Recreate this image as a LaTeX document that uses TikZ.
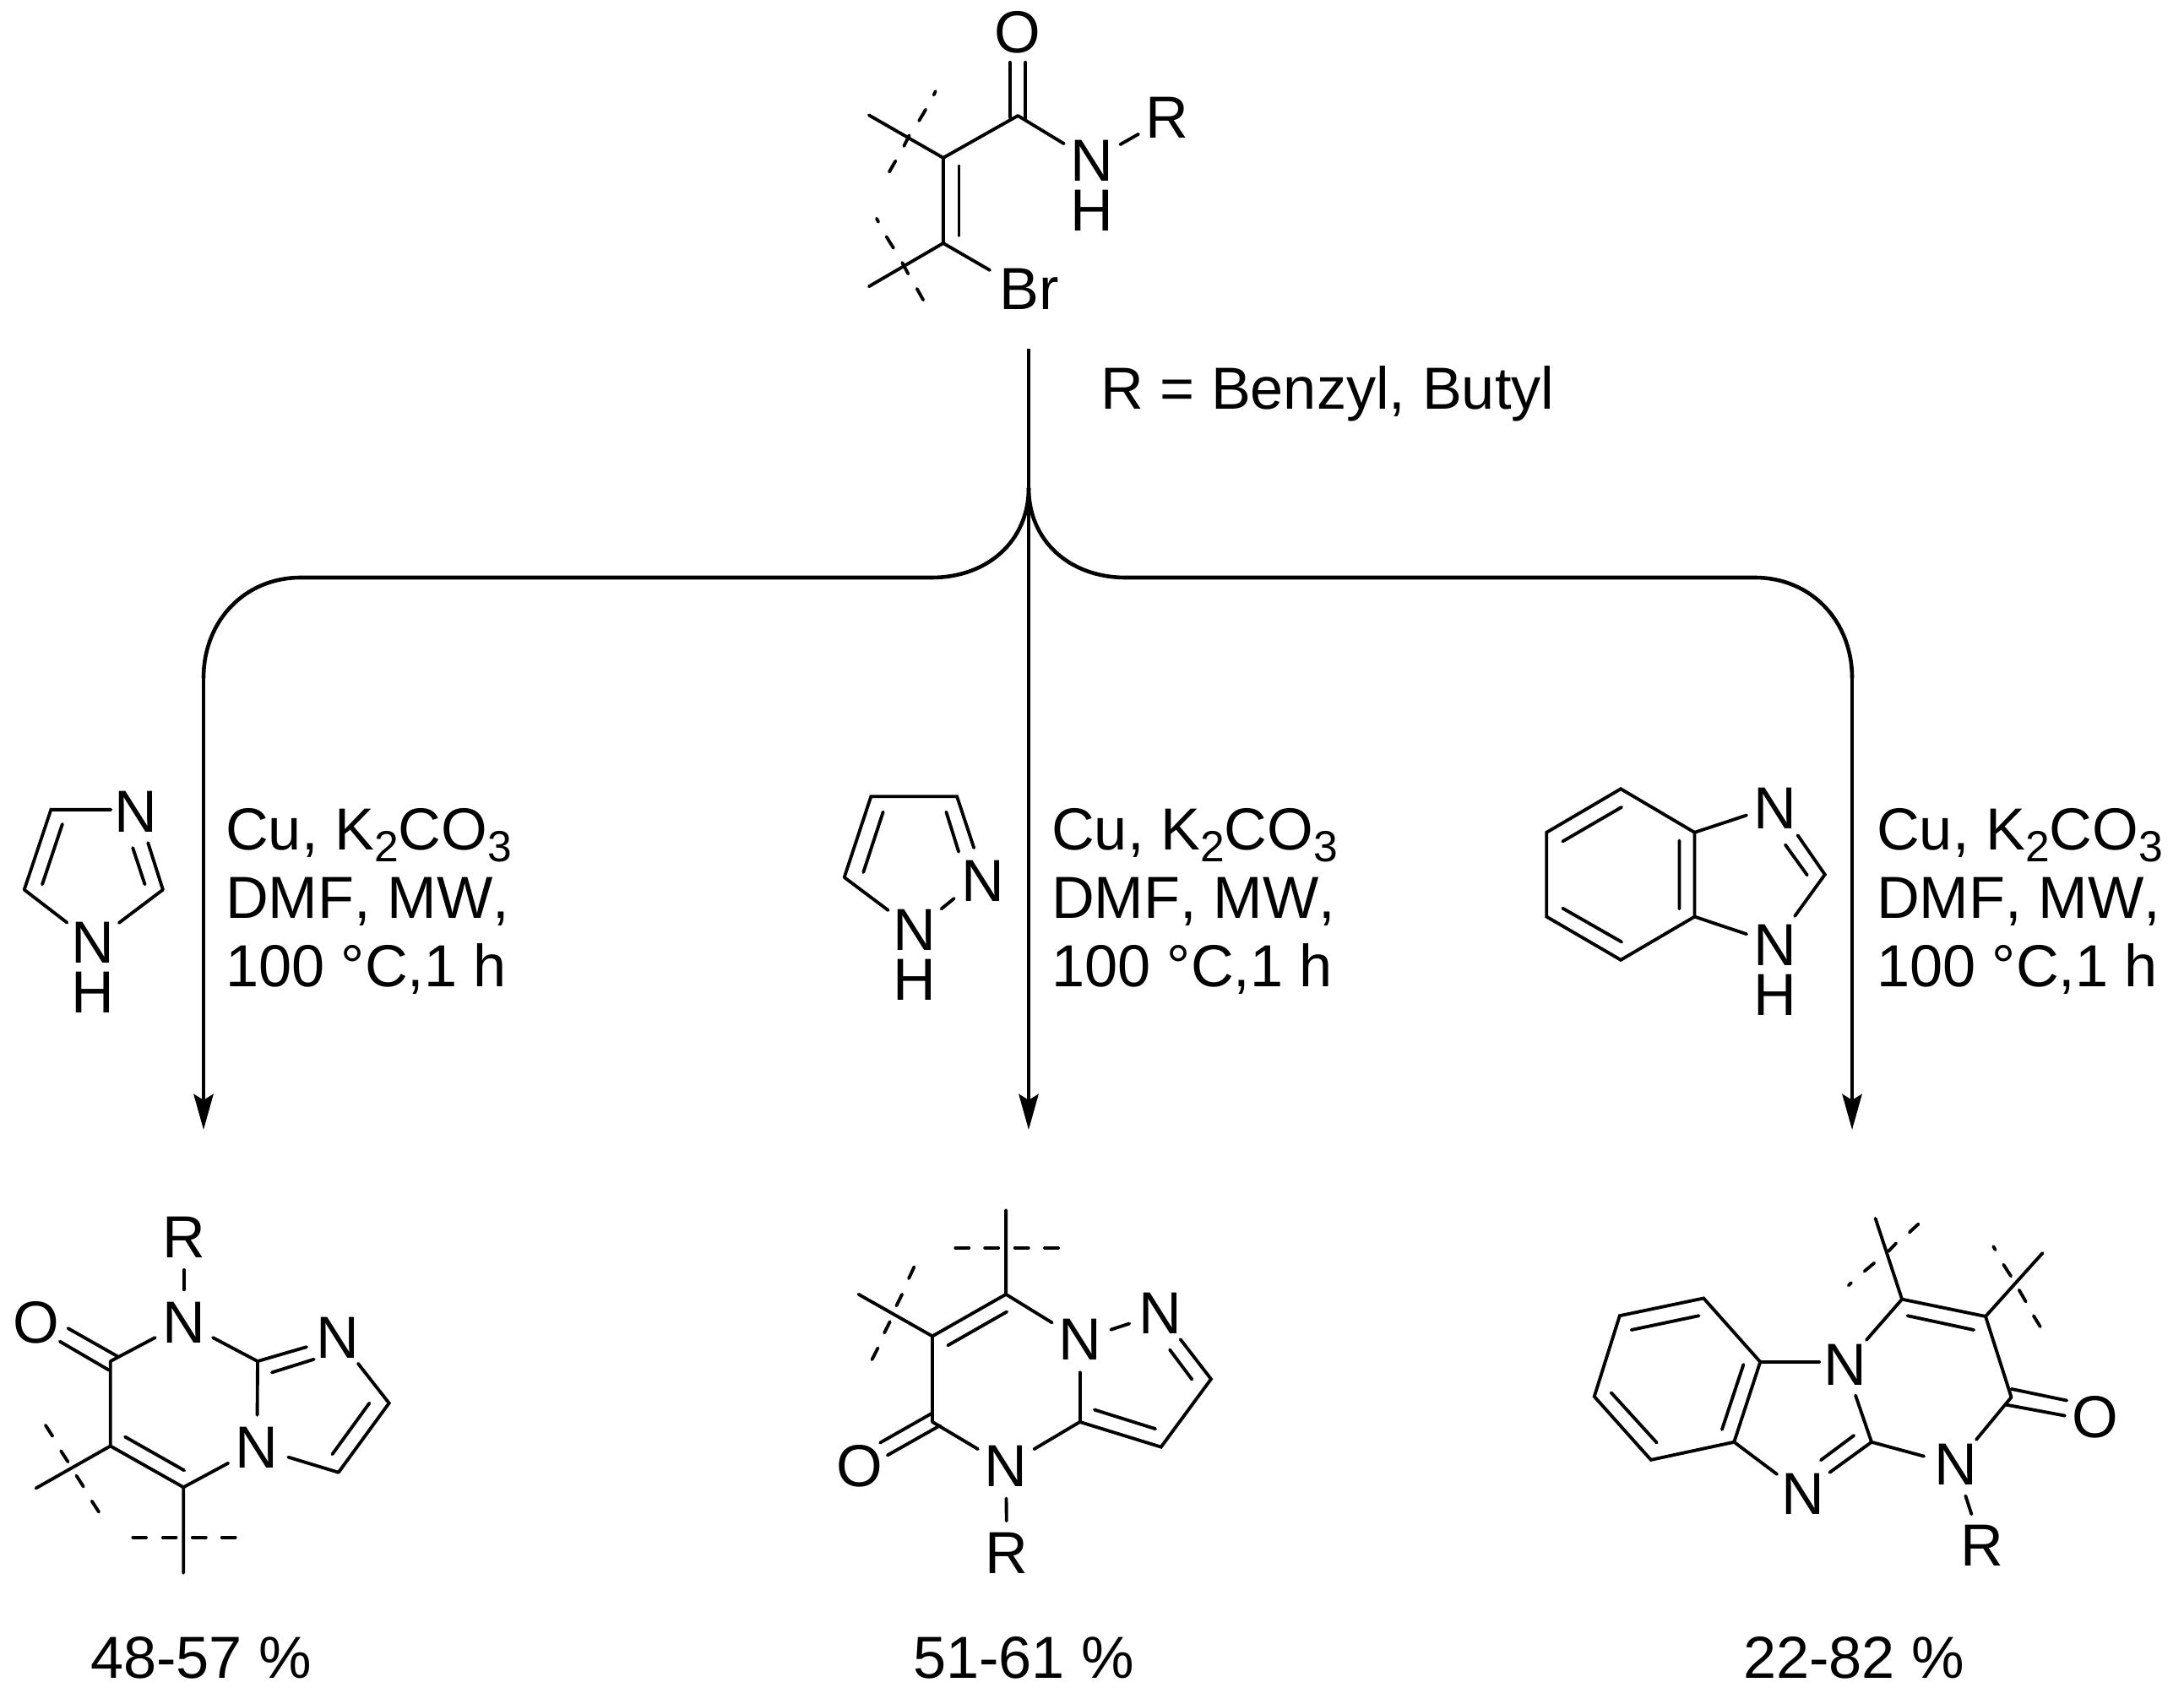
\documentclass[tikz,border=0pt]{standalone}
\usepackage{fontspec}
\setmainfont[Kerning=Off]{Liberation Sans}
\usetikzlibrary{arrows.meta}
\newcommand{\condtext}{Cu, K{\fontsize{14.7}{14.7}\selectfont\raisebox{-4.2pt}{2}}CO{\fontsize{14.7}{14.7}\selectfont\raisebox{-4.2pt}{3}}}
\tikzset{
  bond/.style={line width=1.1pt,line cap=round,line join=miter},
  flow/.style={line width=1.3pt},
  flowarrow/.style={line width=1.3pt,-{Stealth[length=12pt,width=6.6pt,inset=2pt]}},
  atom/.style={circle,inner sep=0pt,minimum size=21.6pt,font=\fontsize{20}{24}\selectfont},
  label/.style={inner sep=0pt,font=\fontsize{20}{24}\selectfont},
  zoomA/.style={x=0.00415cm,y=-0.00333cm},
  zoomB/.style={x=0.00333cm,y=-0.00391cm},
  zoomC/.style={x=0.00463cm,y=-0.00391cm},
  zoomD/.style={x=0.0041cm,y=-0.00333cm},
  zoomE/.style={x=0.00489cm,y=-0.00333cm}
}
\begin{document}
\begin{tikzpicture}
\useasboundingbox (0,0) rectangle (25.86,-20.18);
% ---------- reaction lines
\coordinate (top) at (12.18,-4.13);
\coordinate (fork) at (12.18,-5.78);
\coordinate (mid) at (12.18,-13.38);
\coordinate (lb) at (2.41,-8.03);
\coordinate (le) at (2.41,-13.38);
\coordinate (rb) at (21.93,-8.03);
\coordinate (re) at (21.93,-13.38);
\draw[flowarrow] (top) -- (mid);
\draw[flow] (fork) .. controls (12.18,-6.4) and (11.7,-6.84) .. (11.03,-6.84) -- (3.56,-6.84) .. controls (2.9,-6.84) and (2.41,-7.35) .. (lb);
\draw[flow] (fork) .. controls (12.18,-6.4) and (12.66,-6.84) .. (13.33,-6.84) -- (20.78,-6.84) .. controls (21.44,-6.84) and (21.93,-7.35) .. (rb);
\draw[flowarrow] (lb) -- (le);
\draw[flowarrow] (rb) -- (re);
\node[label,anchor=base west] (rdef) at (13.025,-4.84) {R = Benzyl, Butyl};
% ---------- conditions
\foreach \cx/\cn in {2.665/ca,12.445/cb,22.215/cc}{
  \node[label,anchor=base west] (\cn1) at (\cx,-10.06) {\condtext};
  \node[label,anchor=base west] (\cn2) at (\cx,-10.87) {DMF, MW,};
  \node[label,anchor=base west] (\cn3) at (\cx,-11.68) {100 °C,1 h};
}
% ---------- yields
\node[label,anchor=base] (y1) at (2.38,-19.87) {48-57 \%};
\node[label,anchor=base] (y2) at (12.12,-19.87) {51-61 \%};
\node[label,anchor=base] (y3) at (21.95,-19.87) {22-82 \%};
% ---------- starting material
\begin{scope}[shift={(9.5,0)},zoomA]
\node[atom] (tO) at (613,115) {O};
\node[atom] (tN) at (826,572) {N};
\node[label] (tH) at (826,750) {H};
\node[atom] (tR) at (1040,420) {R};
\node[label] (tBr) at (647,1030) {Br};
\coordinate (t1) at (615,412);
\coordinate (t2) at (402,562);
\coordinate (t3) at (402,866);
\coordinate (ta) at (190,410);
\coordinate (tb) at (190,1020);
\coordinate (tc) at (535,962);
\draw[bond] (ta) -- (t2) -- (t1) (t2) -- (t3) (tb) -- (t3) -- (tc);
\draw[bond] (t1) -- (tN);
\draw[bond] (tN) -- (tR);
\draw[bond] (592,222) -- (592,418) (637,222) -- (637,425);
\draw[bond] (447,592) -- (447,838);
\draw[bond] (380,325) -- (375,338) (352,390) -- (333,430) (305,482) -- (290,520) (266,573) -- (248,612);
\draw[bond] (212,778) -- (217,790) (240,843) -- (260,883) (285,935) -- (302,975) (327,1028) -- (345,1068);
\end{scope}
% ---------- imidazole
\begin{scope}[shift={(0,-9)},zoomD]
\node[atom] (iN) at (393,185) {N};
\node[atom] (iM) at (268,650) {N};
\node[label] (iH) at (268,828) {H};
\coordinate (i1) at (147,177);
\coordinate (i2) at (70,462);
\coordinate (i3) at (470,462);
\coordinate (i4) at (320,177);
\draw[bond] (i4) -- (i1) -- (i2);
\draw[bond] (i2) -- (iM);
\draw[bond] (iM) -- (i3);
\draw[bond] (i3) -- (427,295);
\draw[bond] (180,228) -- (122,443) (383,313) -- (418,443);
\end{scope}
% ---------- pyrazole
\begin{scope}[shift={(9.8,-9)},zoomD]
\node[atom] (pN) at (448,430) {N};
\node[atom] (pM) at (250,605) {N};
\node[label] (pH) at (250,782) {H};
\coordinate (p1) at (125,130);
\coordinate (p2) at (373,130);
\coordinate (p3) at (48,418);
\draw[bond] (422,313) -- (p2) -- (p1) -- (p3);
\draw[bond] (p3) -- (pM);
\draw[bond] (328,530) -- (365,493);
\draw[bond] (160,185) -- (103,400) (342,185) -- (378,327);
\end{scope}
% ---------- benzimidazole
\begin{scope}[shift={(18.2,-9)},zoomE]
\node[atom] (bN) at (578,173) {N};
\node[atom] (bM) at (578,660) {N};
\node[label] (bH) at (578,838) {H};
\coordinate (b1) at (203,103);
\coordinate (b2) at (23,258);
\coordinate (b3) at (23,558);
\coordinate (b4) at (203,712);
\coordinate (b5) at (382,558);
\coordinate (b6) at (382,258);
\coordinate (b7) at (698,408);
\draw[bond] (b1) -- (b2) -- (b3) -- (b4) -- (b5) -- (b6) -- cycle;
\draw[bond] (b6) -- (508,197) (b5) -- (508,620);
\draw[bond] (632,268) -- (b7) -- (625,556);
\draw[bond] (602,302) -- (655,410);
\draw[bond] (205,168) -- (62,290) (62,528) -- (205,648) (345,287) -- (345,530);
\end{scope}
% ---------- product 1
\begin{scope}[shift={(0,-14)},zoomB]
\node[atom] (aR) at (655,167) {R};
\node[atom] (aN) at (655,425) {N};
\node[atom] (aO) at (130,425) {O};
\node[atom] (aP) at (1203,472) {N};
\node[atom] (aQ) at (915,805) {N};
\coordinate (a1) at (393,543);
\coordinate (a2) at (917,543);
\coordinate (a3) at (1385,670);
\coordinate (a4) at (1205,880);
\coordinate (a5) at (653,925);
\coordinate (a6) at (393,800);
\coordinate (a7) at (128,928);
\coordinate (a8) at (653,1185);
\draw[bond] (aR) -- (aN);
\draw[bond] (a1) -- (aN);
\draw[bond] (aN) -- (a2);
\draw[bond] (a2) -- (aP);
\draw[bond] (a2) -- (aQ);
\draw[bond] (aP) -- (a3) -- (a4);
\draw[bond] (a4) -- (aQ);
\draw[bond] (aQ) -- (a5);
\draw[bond] (a5) -- (a6) -- (a1);
\draw[bond] (a6) -- (a7) (a5) -- (a8);
\draw[bond] (242,443) -- (418,528) (213,483) -- (388,570);
\draw[bond] (445,772) -- (656,874) (968,577) -- (1118,537) (1315,670) -- (1183,825);
\draw[bond] (473,1077) -- (520,1077) (580,1077) -- (627,1077) (685,1077) -- (733,1077) (790,1077) -- (838,1077);
\draw[bond] (162,737) -- (187,770) (217,815) -- (242,848) (272,890) -- (297,923) (327,967) -- (352,1000);
\end{scope}
% ---------- product 2
\begin{scope}[shift={(9.5,-14)},zoomB]
\node[atom] (cA) at (988,478) {N};
\node[atom] (cB) at (1275,398) {N};
\node[atom] (cC) at (725,860) {N};
\node[atom] (cO) at (203,860) {O};
\node[atom] (cR) at (728,1126) {R};
\coordinate (c1) at (725,340);
\coordinate (c2) at (725,85);
\coordinate (c3) at (1455,597);
\coordinate (c4) at (1277,803);
\coordinate (c5) at (988,727);
\coordinate (c6) at (463,727);
\coordinate (c7) at (463,467);
\coordinate (c8) at (200,340);
\draw[bond] (c2) -- (c1) -- (c7) -- (c6);
\draw[bond] (c1) -- (cA);
\draw[bond] (cA) -- (cB);
\draw[bond] (cB) -- (c3) -- (c4) -- (c5);
\draw[bond] (c5) -- (cA);
\draw[bond] (c5) -- (cC);
\draw[bond] (cC) -- (c6);
\draw[bond] (cC) -- (cR);
\draw[bond] (c7) -- (c8);
\draw[bond] (518,495) -- (728,393) (1040,690) -- (1257,748) (1308,508) -- (1387,598);
\draw[bond] (277,790) -- (463,700) (303,828) -- (490,738);
\draw[bond] (545,199) -- (593,199) (650,199) -- (698,199) (757,199) -- (805,199) (863,199) -- (911,199);
\draw[bond] (398,257) -- (379,292) (355,340) -- (335,375) (312,423) -- (292,457) (269,503) -- (248,538);
\end{scope}
% ---------- product 3
\begin{scope}[shift={(18.6,-14)},zoomC]
\node[atom] (dA) at (702,553) {N};
\node[atom] (dB) at (985,857) {N};
\node[atom] (dC) at (595,945) {N};
\node[atom] (dO) at (1342,712) {O};
\node[atom] (dR) at (1052,1101) {R};
\coordinate (d1) at (340,352);
\coordinate (d2) at (125,405);
\coordinate (d3) at (60,650);
\coordinate (d4) at (205,842);
\coordinate (d5) at (418,788);
\coordinate (d6) at (485,545);
\coordinate (d7) at (848,355);
\coordinate (d8) at (1062,407);
\coordinate (d9) at (1128,652);
\coordinate (d10) at (770,788);
\coordinate (d11) at (780,110);
\coordinate (d12) at (1208,215);
\draw[bond] (d1) -- (d2) -- (d3) -- (d4) -- (d5) -- (d6) -- cycle;
\draw[bond] (d6) -- (636,545);
\draw[bond] (dA) -- (d7) -- (d8) -- (d9);
\draw[bond] (dA) -- (d10);
\draw[bond] (d9) -- (dB);
\draw[bond] (dB) -- (d10);
\draw[bond] (dB) -- (dR);
\draw[bond] (d10) -- (663,880);
\draw[bond] (dC) -- (d5);
\draw[bond] (d7) -- (d11) (d8) -- (d12);
\draw[bond] (155,448) -- (328,405) (103,638) -- (220,790) (387,750) -- (442,553);
\draw[bond] (862,405) -- (1032,448) (725,768) -- (640,843);
\draw[bond] (1128,627) -- (1270,662) (1115,675) -- (1265,708);
\draw[bond] (890,127) -- (867,152) (833,185) -- (813,210) (777,245) -- (752,270) (718,305) -- (711,313);
\draw[bond] (1082,195) -- (1087,205) (1108,250) -- (1127,285) (1148,327) -- (1165,362) (1185,405) -- (1202,438);
\end{scope}
\end{tikzpicture}
\end{document}
